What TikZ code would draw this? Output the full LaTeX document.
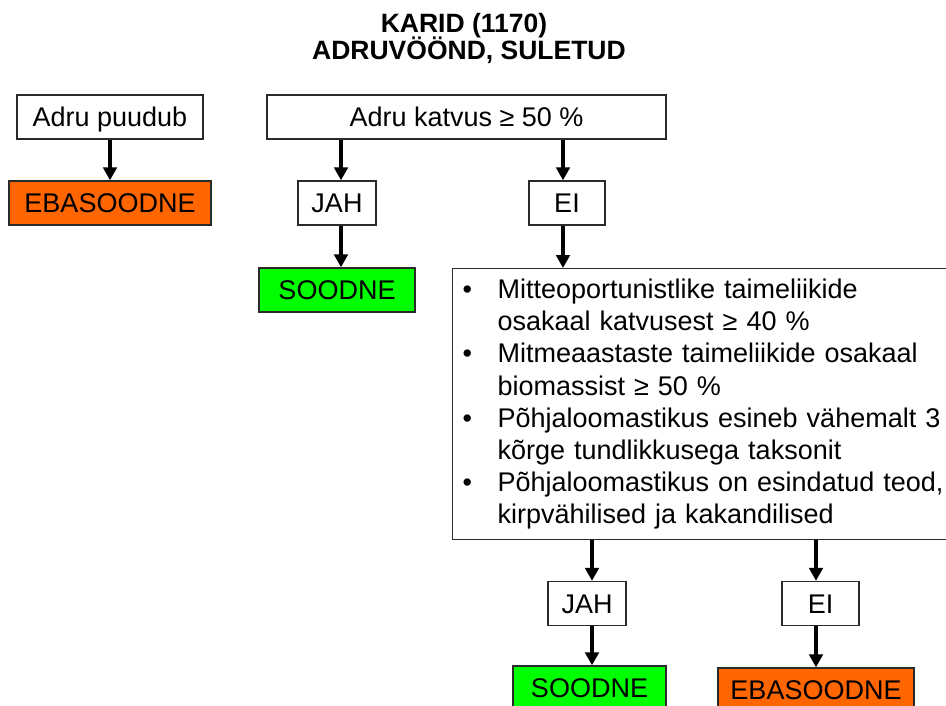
\documentclass[tikz,border=0pt]{standalone}
\usepackage{fontspec}
\setmainfont{Liberation Sans}
\usetikzlibrary{arrows.meta}
\definecolor{badorange}{HTML}{FF6600}
\definecolor{goodgreen}{HTML}{00FF00}
\definecolor{edgegray}{HTML}{2A2A2A}
\tikzset{
  box/.style={draw=edgegray, line width=1.3pt, fill=white, inner sep=0pt,
    minimum height=44pt, text height=19.3pt, text depth=0pt,
    font=\fontsize{27}{32}\selectfont},
  badbox/.style={box, fill=badorange},
  goodbox/.style={box, fill=goodgreen},
  titletext/.style={font=\fontsize{26.5}{27}\selectfont\bfseries, inner sep=0pt, anchor=base},
  flow/.style={line width=4.3pt, -{Triangle[width=13.5pt,length=13pt]}},
}
\newcommand{\bul}{\makebox[35pt][l]{•}}
\newcommand{\cont}{\hspace*{35pt}}
\begin{document}
\begin{tikzpicture}[x=1pt, y=-1pt]
  \useasboundingbox (0,0) rectangle (946,705);
  \clip (0,0) rectangle (946,705);
  \fill[white] (0,0) rectangle (946,705);

  % heading
  \node[titletext] (t1) at (464,32) {KARID (1170)};
  \node[titletext] (t2) at (469,59) {ADRUVÖÖND, SULETUD};

  % first level
  \node[box, minimum width=186pt] (puudub) at (110,117) {Adru puudub};
  \node[badbox, minimum width=202pt] (eba1) at (110,203) {EBASOODNE};
  \node[box, minimum width=399pt] (katvus) at (466.5,117) {Adru katvus ≥ 50 \%};
  \node[box, minimum width=78pt] (jah1) at (337,203) {JAH};
  \node[box, minimum width=76pt] (ei1) at (567,203) {EI};
  \node[goodbox, minimum width=156pt] (soodne1) at (337,290) {SOODNE};

  % criteria box
  \node[draw=edgegray, line width=1.3pt, fill=white, anchor=north west,
        inner xsep=10pt, inner ysep=0pt, text width=483pt, minimum height=271pt,
        align=left, font=\fontsize{27}{32.1}\selectfont] (crit) at (452,268)
    {\bul\mbox{Mitteoportunistlike taimeliikide}\\
     \cont\mbox{osakaal katvusest ≥ 40 \%}\\
     \bul\mbox{Mitmeaastaste taimeliikide osakaal}\\
     \cont\mbox{biomassist ≥ 50 \%}\\
     \bul\mbox{Põhjaloomastikus esineb vähemalt 3}\\
     \cont\mbox{kõrge tundlikkusega taksonit}\\
     \bul\mbox{Põhjaloomastikus on esindatud teod,}\\
     \cont\mbox{kirpvähilised ja kakandilised}};

  % second level
  \node[box, minimum width=78pt] (jah2) at (587,603.5) {JAH};
  \node[box, minimum width=77pt] (ei2) at (820.5,603.5) {EI};
  \node[goodbox, minimum width=153pt] (soodne2) at (589.5,688) {SOODNE};
  \node[badbox, minimum width=196pt] (eba2) at (816,690) {EBASOODNE};

  % connector columns
  \coordinate (ca) at (110,0);
  \coordinate (cb) at (341,0);
  \coordinate (cc) at (563,0);
  \coordinate (cd) at (592,0);
  \coordinate (ce) at (816,0);

  \draw[flow] (puudub.south -| ca) -- (eba1.north -| ca);
  \draw[flow] (katvus.south -| cb) -- (jah1.north -| cb);
  \draw[flow] (jah1.south -| cb) -- (soodne1.north -| cb);
  \draw[flow] (katvus.south -| cc) -- (ei1.north -| cc);
  \draw[flow] (ei1.south -| cc) -- (crit.north -| cc);
  \draw[flow] (crit.south -| cd) -- (jah2.north -| cd);
  \draw[flow] (jah2.south -| cd) -- (soodne2.north -| cd);
  \draw[flow] (crit.south -| ce) -- (ei2.north -| ce);
  \draw[flow] (ei2.south -| ce) -- (eba2.north -| ce);
\end{tikzpicture}
\end{document}
